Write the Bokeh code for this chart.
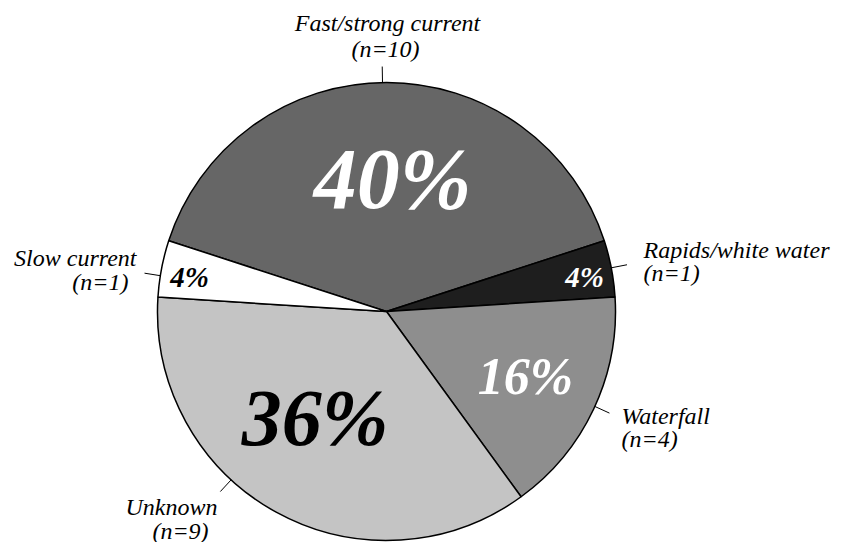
import math
from bokeh.plotting import figure
from bokeh.models import Range1d
from bokeh.embed import file_html
from bokeh.resources import INLINE
from bokeh.core.properties import value

# Drowning incidents by water condition
categories = ["Fast/strong current", "Rapids/white water", "Waterfall", "Unknown", "Slow current"]
counts = [10, 1, 4, 9, 1]

# Slice styling
fills = ["#666666", "#1e1e1e", "#8e8e8e", "#c4c4c4", "#ffffff"]
pct_colors = ["#ffffff", "#ffffff", "#ffffff", "#000000", "#000000"]
pct_sizes = ["86px", "29px", "52px", "80px", "29px"]
pct_radius = [0.578, 0.878, 0.67, 0.56, 0.873]     # fraction of pie radius
pct_turn = [-2.6, -0.8, 0.1, -5.0, 1.0]             # degrees off the slice middle
leader_angle = [91.0, 11.0, -24.5, -132.7, 171.0]   # degrees

# Category label placement in page pixels: (x line1, x line2, baseline1, baseline2, align)
label_layout = [
    (387, 385, 22, 48, "center"),
    (643, 643, 249, 272, "left"),
    (621, 621, 415, 438, "left"),
    (171, 180, 506, 530, "center"),
    (136, 128, 257, 281, "right"),
]

W, H = 842, 542
CX, CY, R = 386, H - 311, 229
START = 162.0  # degrees, first slice begins here and runs clockwise
FONT = value("Liberation Serif")

p = figure(width=W, height=H, output_backend="svg", toolbar_location=None,
           x_range=Range1d(0, W), y_range=Range1d(0, H), min_border=0)
p.axis.visible = False
p.grid.visible = False
p.outline_line_color = None
p.background_fill_color = "white"

total = sum(counts)
cum = 0
for i, c in enumerate(counts):
    a0 = START - 360.0 * cum / total
    a1 = START - 360.0 * (cum + c) / total
    cum += c
    p.wedge(x=CX, y=CY, radius=R, start_angle=math.radians(a0), end_angle=math.radians(a1),
            direction="clock", fill_color=fills[i], line_color="black", line_width=1.5)

    mid = (a0 + a1) / 2 + pct_turn[i]
    tx = CX + pct_radius[i] * R * math.cos(math.radians(mid))
    ty = CY + pct_radius[i] * R * math.sin(math.radians(mid))
    p.text(x=[tx], y=[ty], text=[f"{round(100 * c / total)}%"], text_font=FONT,
           text_font_style="bold italic", text_font_size=pct_sizes[i],
           text_color=pct_colors[i], text_align="center", text_baseline="middle")

    la = math.radians(leader_angle[i])
    p.line(x=[CX + R * math.cos(la), CX + (R + 16) * math.cos(la)],
           y=[CY + R * math.sin(la), CY + (R + 16) * math.sin(la)],
           line_color="black", line_width=1)

    x1, x2, b1, b2, align = label_layout[i]
    p.text(x=[x1], y=[H - b1], text=[categories[i]], text_font=FONT,
           text_font_style="italic", text_font_size="24px", text_color="black",
           text_align=align, text_baseline="alphabetic")
    p.text(x=[x2], y=[H - b2], text=[f"(n={c})"], text_font=FONT,
           text_font_style="italic", text_font_size="24px", text_color="black",
           text_align=align, text_baseline="alphabetic")

open("out.html", "w").write(file_html(p, INLINE))
